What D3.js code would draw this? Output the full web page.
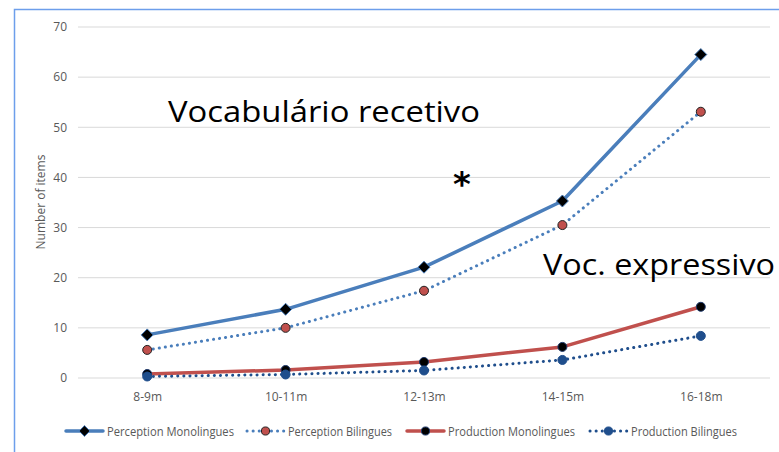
<!DOCTYPE html>
<html><head><meta charset="utf-8">
<script src="https://cdn.jsdelivr.net/npm/d3@7"></script>
<style>body{margin:0;background:#fff}svg{display:block}</style>
</head><body>
<script>
const categories = ["8-9m","10-11m","12-13m","14-15m","16-18m"];
const percMono = [8.6, 13.7, 22.1, 35.3, 64.5];
const percBi = [5.6, 10.0, 17.4, 30.5, 53.1];
const prodMono = [0.8, 1.6, 3.2, 6.2, 14.2];
const prodBi = [0.3, 0.7, 1.5, 3.6, 8.4];
const yTicks = [0,10,20,30,40,50,60,70];
const seriesNames = ["Perception Monolingues","Perception Bilingues","Production Monolingues","Production Bilingues"];

const W=779,H=452;
const svg=d3.select("body").append("svg").attr("width",W).attr("height",H);
svg.append("rect").attr("width",W).attr("height",H).attr("fill","#fff");
svg.append("path").attr("d",`M14.5,${H}V9.5H${W}`).attr("fill","none").attr("stroke","#6d9eeb").attr("stroke-width",1.5);

const x=d3.scalePoint().domain(categories).range([78,770]).padding(0.5);
const y=d3.scaleLinear().domain([0,70]).range([378,27]);

const grid=svg.append("g");
grid.selectAll("line").data(yTicks).join("line")
 .attr("x1",78).attr("x2",770).attr("y1",d=>y(d)).attr("y2",d=>y(d))
 .attr("stroke","#d9d9d9").attr("stroke-width",1);

const yAxis=svg.append("g").attr("transform","translate(70,0)")
 .call(d3.axisLeft(y).tickValues(yTicks).tickSize(0).tickPadding(0));
yAxis.select(".domain").remove();
yAxis.selectAll("text").attr("fill","#595959").style("font-family","Open Sans, sans-serif").style("font-size","12px").attr("dx","-3");

const xAxis=svg.append("g").attr("transform","translate(0,378)")
 .call(d3.axisBottom(x).tickSize(0).tickPadding(14));
xAxis.select(".domain").remove();
xAxis.selectAll("text").attr("fill","#595959").style("font-family","Open Sans, sans-serif").style("font-size","12px");

svg.append("text").attr("transform","translate(45,202) rotate(-90)").attr("text-anchor","middle")
 .attr("fill","#595959").style("font-family","Open Sans, sans-serif").style("font-size","12px").text("Number of items");

const line=d3.line().x((d,i)=>x(categories[i])).y(d=>y(d));
const styles=[
 {data:percMono,color:"#4a7ebb",w:3.5,dash:null,marker:"diamond",mfill:"#000",mstroke:"#4a7ebb"},
 {data:percBi,color:"#4a7ebb",w:3,dash:"0.1,6",marker:"circle",mfill:"#c0504d",mstroke:"#222"},
 {data:prodMono,color:"#c0504d",w:3.5,dash:null,marker:"circle",mfill:"#000",mstroke:"#1f3a6d"},
 {data:prodBi,color:"#1f4e8c",w:3,dash:"0.1,6",marker:"circle",mfill:"#1f4e8c",mstroke:"#1f4e8c"}
];
const order=[2,3,1,0];
function drawMarker(g,s,cx,cy,scale){
  if(s.marker==="diamond"){
    const r=6*scale;
    g.append("path").attr("d",`M${cx},${cy-r}L${cx+r},${cy}L${cx},${cy+r}L${cx-r},${cy}Z`)
     .attr("fill",s.mfill).attr("stroke",s.mstroke).attr("stroke-width",1);
  } else {
    g.append("circle").attr("cx",cx).attr("cy",cy).attr("r",4.5*scale)
     .attr("fill",s.mfill).attr("stroke",s.mstroke).attr("stroke-width",1);
  }
}
order.forEach(k=>{
  const s=styles[k];
  const g=svg.append("g");
  g.append("path").attr("d",line(s.data)).attr("fill","none").attr("stroke",s.color)
   .attr("stroke-width",s.w).attr("stroke-linecap",s.dash?"round":"butt").attr("stroke-linejoin","round")
   .attr("stroke-dasharray",s.dash);
  s.data.forEach((v,i)=>drawMarker(g,s,x(categories[i]),y(v),1));
});

// legend
const legX=[66,247,407,590];
const legLen=[127,104,127,106];
const lg=svg.append("g");
styles.forEach((s,i)=>{
  const x0=legX[i], x1=x0+37, cy=431;
  lg.append("line").attr("x1",x0).attr("x2",x1).attr("y1",cy).attr("y2",cy).attr("stroke",s.color)
   .attr("stroke-width",s.w).attr("stroke-linecap","round").attr("stroke-dasharray",s.dash);
  drawMarker(lg,s,(x0+x1)/2,cy,0.9);
  lg.append("text").attr("x",x1+4).attr("y",cy+4.5).attr("fill","#595959")
   .style("font-family","Open Sans, sans-serif").style("font-size","12.5px")
   .attr("textLength",legLen[i]).attr("lengthAdjust","spacingAndGlyphs").text(seriesNames[i]);
});

// annotations
svg.append("text").attr("x",168).attr("y",122).attr("fill","#000").style("font-family","Open Sans, sans-serif")
 .style("font-size","30px").attr("textLength",312).attr("lengthAdjust","spacingAndGlyphs").text("Vocabulário recetivo");
svg.append("text").attr("x",462).attr("y",196).attr("text-anchor","middle").attr("fill","#000").style("font-family","DejaVu Sans, sans-serif")
 .style("font-size","34px").style("font-weight","bold").text("*");
svg.append("text").attr("x",543).attr("y",275).attr("fill","#000").style("font-family","Open Sans, sans-serif")
 .style("font-size","30px").attr("textLength",232).attr("lengthAdjust","spacingAndGlyphs").text("Voc. expressivo");
</script>
</body></html>
